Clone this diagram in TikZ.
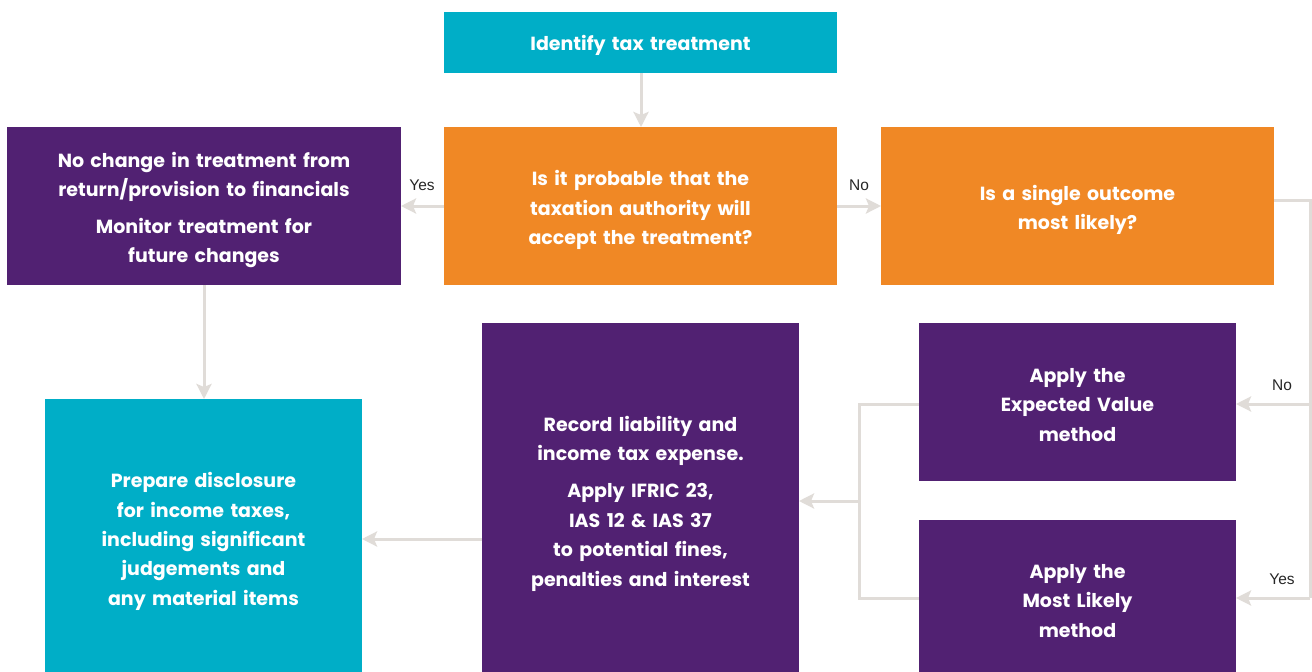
\documentclass[tikz,border=0pt]{standalone}
\usepackage{fontspec}
\setmainfont{Poppins}
\newfontfamily\labelfont{Liberation Sans}
\usetikzlibrary{arrows.meta}
\definecolor{cteal}{RGB}{0,174,199}
\definecolor{corange}{RGB}{240,136,37}
\definecolor{cpurple}{RGB}{81,33,114}
\definecolor{cgray}{RGB}{224,220,216}
\tikzset{
  box/.style={inner sep=0pt, outer sep=0pt, text=white, align=center,
    font=\fontsize{19}{29.4}\selectfont\bfseries},
  conn/.style={draw=cgray, line width=3pt,
    -{Stealth[length=15pt,width=15pt,inset=3pt]}},
  line/.style={draw=cgray, line width=3pt},
  lbl/.style={font=\labelfont\fontsize{15.5}{18}\selectfont, text=black!85, inner sep=0pt}
}
\newcommand{\boxat}[8]{% name, x1,y1,x2,y2,color,text,yshift
  \fill[#6] (#2,#3) rectangle (#4,#5);
  \node[box, text width={(#4-#2-10)*1pt}] (#1) at ({(#2+#4)/2},{(#3+#5)/2+#8}) {#7};
}
\begin{document}
\begin{tikzpicture}[x=1pt,y=-1pt]
\useasboundingbox (0,0) rectangle (1312,672);
\fill[white] (0,0) rectangle (1312,672);
\boxat{top}{444}{12}{837}{73}{cteal}{Identify tax treatment}{3}
\boxat{q1}{444}{127}{837}{285}{corange}{Is it probable that the\\taxation authority will\\accept the treatment?}{4}
\boxat{nochg}{7}{127}{401}{285}{cpurple}{No change in treatment from\\return/provision to financials\\[7pt]Monitor treatment for\\future changes}{4}
\boxat{q2}{881}{127}{1274}{285}{corange}{Is a single outcome\\most likely?}{4}
\boxat{disc}{45}{399}{362}{672}{cteal}{Prepare disclosure\\for income taxes,\\including significant\\judgements and\\any material items}{6}
\boxat{rec}{482}{323}{799}{672}{cpurple}{Record liability and\\income tax expense.\\[8pt]Apply IFRIC 23,\\IAS 12 \& IAS 37\\to potential fines,\\penalties and interest}{6}
\boxat{ev}{919}{323}{1236}{481}{cpurple}{Apply the\\Expected Value\\method}{3}
\boxat{ml}{919}{520}{1236}{672}{cpurple}{Apply the\\Most Likely\\method}{5}

% coordinates for connectors
\coordinate (q1-wy) at (444,206);
\coordinate (nochg-ey) at (401,206);
\coordinate (q1-ey) at (837,206);
\coordinate (q2-wy) at (881,206);
\coordinate (q2-ey) at (1274,200);
\coordinate (rr) at (1310,200);
\coordinate (ev-ey) at (1236,404);
\coordinate (ml-ey) at (1236,598);
\coordinate (ev-wy) at (919,404);
\coordinate (ml-wy) at (919,598);
\coordinate (bx) at (859,501);
\coordinate (rec-ey) at (799,501);
\coordinate (rec-wy) at (482,539);
\coordinate (disc-ey) at (362,539);
\coordinate (nochg-sx) at (204,285);
\coordinate (disc-nx) at (204,399);
\coordinate (top-sx) at (641,73);
\coordinate (q1-nx) at (641,127);

\draw[conn] (top-sx) -- (q1-nx);
\draw[conn] (q1-wy) -- (nochg-ey);
\draw[conn] (q1-ey) -- (q2-wy);
\draw[line] (q2-ey) -- (rr) -- (rr |- ml-ey);
\draw[conn] (rr |- ev-ey) -- (ev-ey);
\draw[conn] (rr |- ml-ey) -- (ml-ey);
\draw[line] (ev-wy) -- (bx |- ev-wy) -- (bx |- ml-wy) -- (ml-wy);
\draw[conn] (bx) -- (rec-ey);
\draw[conn] (rec-wy) -- (disc-ey);
\draw[conn] (nochg-sx) -- (disc-nx);

\node[lbl] (yes1) at (422,185) {Yes};
\node[lbl] (no1) at (859,185) {No};
\node[lbl] (no2) at (1282,385) {No};
\node[lbl] (yes2) at (1282,579) {Yes};
\end{tikzpicture}
\end{document}
